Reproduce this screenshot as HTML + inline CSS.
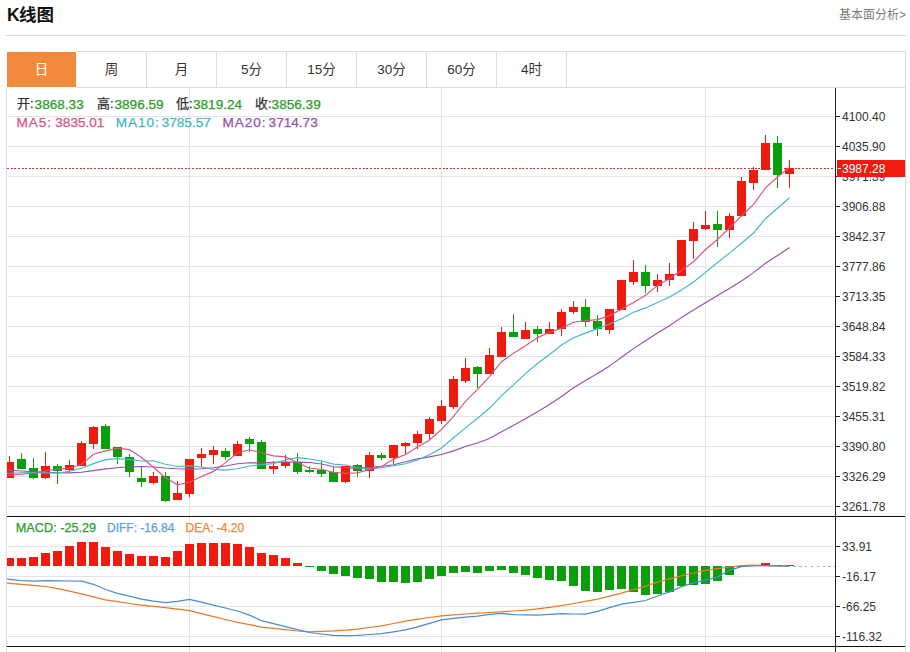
<!DOCTYPE html>
<html><head><meta charset="utf-8"><style>
*{margin:0;padding:0;box-sizing:border-box}
html,body{width:910px;height:652px;overflow:hidden;background:#fff}
body{position:relative;font-family:"Liberation Sans","Noto Sans CJK SC",sans-serif;color:#333}
.title{position:absolute;left:7px;top:3px;font-size:17.5px;font-weight:bold;color:#111;line-height:24px;letter-spacing:0}
.more{position:absolute;right:4px;top:7px;font-size:12px;color:#7c7c7c;line-height:16px}
.hr{position:absolute;left:6px;top:35px;width:900px;height:1px;background:#d0d0d0}
.box{position:absolute;left:6px;top:88px;width:900px;height:564px;border-left:1px solid #dcdcdc;border-right:1px solid #dcdcdc}
.tabs{position:absolute;left:76px;top:51px;width:830px;height:37px;border:1px solid #dcdcdc;border-left:none}
.tab{position:absolute;top:52px;height:35px;width:70px;border-right:1px solid #dcdcdc;text-align:center;font-size:13.5px;line-height:36px;color:#333}
.tab.on{background:#f28a3c;color:#fff;border-right:none;width:69px}
.lg{position:absolute;font-size:13px;white-space:pre;line-height:16px;-webkit-text-stroke:0.25px currentColor}
.r1{top:96px;font-size:13px}
.r1.g{font-size:13.6px;top:96.5px}
.r2{top:114.5px;font-size:13.6px}
.r2.l{letter-spacing:0.9px}
.r3{top:520px;font-size:12px}
.g{color:#2a9d2a}
svg{position:absolute;left:0;top:0}
svg text{font-family:"Liberation Sans",sans-serif;font-size:12px;fill:#333}
</style></head><body>
<div class="title"><span style="letter-spacing:-0.6px">K</span>线图</div>
<div class="more">基本面分析&gt;</div>
<div class="hr"></div>
<div class="box"></div>
<div class="tabs"></div>
<div class="tab on" style="left:7px">日</div>
<div class="tab" style="left:77px">周</div>
<div class="tab" style="left:147px">月</div>
<div class="tab" style="left:217px">5分</div>
<div class="tab" style="left:287px">15分</div>
<div class="tab" style="left:357px">30分</div>
<div class="tab" style="left:427px">60分</div>
<div class="tab" style="left:497px">4时</div>
<svg width="910" height="652" viewBox="0 0 910 652" shape-rendering="crispEdges">

<g><rect x="8" y="116" width="827" height="1" fill="#e3e4e8"/><rect x="8" y="146" width="827" height="1" fill="#e3e4e8"/><rect x="8" y="176" width="827" height="1" fill="#e3e4e8"/><rect x="8" y="206" width="827" height="1" fill="#e3e4e8"/><rect x="8" y="236" width="827" height="1" fill="#e3e4e8"/><rect x="8" y="266" width="827" height="1" fill="#e3e4e8"/><rect x="8" y="296" width="827" height="1" fill="#e3e4e8"/><rect x="8" y="326" width="827" height="1" fill="#e3e4e8"/><rect x="8" y="356" width="827" height="1" fill="#e3e4e8"/><rect x="8" y="386" width="827" height="1" fill="#e3e4e8"/><rect x="8" y="416" width="827" height="1" fill="#e3e4e8"/><rect x="8" y="446" width="827" height="1" fill="#e3e4e8"/><rect x="8" y="476" width="827" height="1" fill="#e3e4e8"/><rect x="8" y="506" width="827" height="1" fill="#e3e4e8"/><rect x="8" y="546" width="827" height="1" fill="#e3e4e8"/><rect x="8" y="576" width="827" height="1" fill="#e3e4e8"/><rect x="8" y="606" width="827" height="1" fill="#e3e4e8"/><rect x="8" y="636" width="827" height="1" fill="#e3e4e8"/><rect x="189" y="88" width="1" height="564" fill="#e3e4e8"/><rect x="441" y="88" width="1" height="564" fill="#e3e4e8"/><rect x="705" y="88" width="1" height="564" fill="#e3e4e8"/><line x1="7" y1="168.5" x2="835" y2="168.5" stroke="#cc3040" stroke-width="1" stroke-dasharray="2,1.63"/><rect x="7" y="462" width="7" height="16" fill="#ee1b0e"/><rect x="9" y="456" width="1" height="6" fill="#ee1b0e"/><rect x="17" y="459" width="9" height="10" fill="#0a9e0a"/><rect x="21" y="453" width="1" height="6" fill="#0a9e0a"/><rect x="29" y="468" width="9" height="10" fill="#0a9e0a"/><rect x="33" y="458" width="1" height="10" fill="#0a9e0a"/><rect x="33" y="478" width="1" height="1" fill="#0a9e0a"/><rect x="41" y="466" width="9" height="12" fill="#ee1b0e"/><rect x="45" y="452" width="1" height="14" fill="#ee1b0e"/><rect x="45" y="478" width="1" height="1" fill="#ee1b0e"/><rect x="53" y="466" width="9" height="5" fill="#0a9e0a"/><rect x="57" y="464" width="1" height="2" fill="#0a9e0a"/><rect x="57" y="471" width="1" height="13" fill="#0a9e0a"/><rect x="65" y="465" width="9" height="5" fill="#ee1b0e"/><rect x="69" y="460" width="1" height="5" fill="#ee1b0e"/><rect x="69" y="470" width="1" height="2" fill="#ee1b0e"/><rect x="77" y="443" width="9" height="23" fill="#ee1b0e"/><rect x="81" y="441" width="1" height="2" fill="#ee1b0e"/><rect x="89" y="427" width="9" height="17" fill="#ee1b0e"/><rect x="93" y="426" width="1" height="1" fill="#ee1b0e"/><rect x="93" y="444" width="1" height="5" fill="#ee1b0e"/><rect x="101" y="426" width="9" height="23" fill="#0a9e0a"/><rect x="105" y="424" width="1" height="2" fill="#0a9e0a"/><rect x="113" y="447" width="9" height="10" fill="#0a9e0a"/><rect x="117" y="457" width="1" height="7" fill="#0a9e0a"/><rect x="125" y="457" width="9" height="15" fill="#0a9e0a"/><rect x="129" y="454" width="1" height="3" fill="#0a9e0a"/><rect x="129" y="472" width="1" height="5" fill="#0a9e0a"/><rect x="137" y="478" width="9" height="4" fill="#0a9e0a"/><rect x="141" y="466" width="1" height="12" fill="#0a9e0a"/><rect x="141" y="482" width="1" height="5" fill="#0a9e0a"/><rect x="149" y="476" width="9" height="7" fill="#ee1b0e"/><rect x="153" y="472" width="1" height="4" fill="#ee1b0e"/><rect x="153" y="483" width="1" height="1" fill="#ee1b0e"/><rect x="161" y="476" width="9" height="25" fill="#0a9e0a"/><rect x="165" y="472" width="1" height="4" fill="#0a9e0a"/><rect x="165" y="501" width="1" height="1" fill="#0a9e0a"/><rect x="173" y="493" width="9" height="7" fill="#ee1b0e"/><rect x="177" y="481" width="1" height="12" fill="#ee1b0e"/><rect x="185" y="459" width="9" height="35" fill="#ee1b0e"/><rect x="189" y="494" width="1" height="3" fill="#ee1b0e"/><rect x="197" y="454" width="9" height="4" fill="#ee1b0e"/><rect x="201" y="448" width="1" height="6" fill="#ee1b0e"/><rect x="201" y="458" width="1" height="9" fill="#ee1b0e"/><rect x="209" y="450" width="9" height="5" fill="#ee1b0e"/><rect x="213" y="446" width="1" height="4" fill="#ee1b0e"/><rect x="213" y="455" width="1" height="9" fill="#ee1b0e"/><rect x="221" y="451" width="9" height="6" fill="#0a9e0a"/><rect x="225" y="448" width="1" height="3" fill="#0a9e0a"/><rect x="225" y="457" width="1" height="3" fill="#0a9e0a"/><rect x="233" y="444" width="9" height="12" fill="#ee1b0e"/><rect x="237" y="441" width="1" height="3" fill="#ee1b0e"/><rect x="245" y="439" width="9" height="5" fill="#0a9e0a"/><rect x="249" y="437" width="1" height="2" fill="#0a9e0a"/><rect x="249" y="444" width="1" height="8" fill="#0a9e0a"/><rect x="257" y="442" width="9" height="27" fill="#0a9e0a"/><rect x="261" y="440" width="1" height="2" fill="#0a9e0a"/><rect x="269" y="466" width="9" height="3" fill="#ee1b0e"/><rect x="273" y="461" width="1" height="5" fill="#ee1b0e"/><rect x="273" y="469" width="1" height="5" fill="#ee1b0e"/><rect x="281" y="462" width="9" height="4" fill="#ee1b0e"/><rect x="285" y="455" width="1" height="7" fill="#ee1b0e"/><rect x="285" y="466" width="1" height="2" fill="#ee1b0e"/><rect x="293" y="462" width="9" height="10" fill="#0a9e0a"/><rect x="297" y="453" width="1" height="9" fill="#0a9e0a"/><rect x="297" y="472" width="1" height="2" fill="#0a9e0a"/><rect x="305" y="470" width="9" height="2" fill="#0a9e0a"/><rect x="309" y="466" width="1" height="4" fill="#0a9e0a"/><rect x="309" y="472" width="1" height="1" fill="#0a9e0a"/><rect x="317" y="470" width="9" height="4" fill="#0a9e0a"/><rect x="321" y="461" width="1" height="9" fill="#0a9e0a"/><rect x="321" y="474" width="1" height="3" fill="#0a9e0a"/><rect x="329" y="472" width="9" height="10" fill="#0a9e0a"/><rect x="333" y="467" width="1" height="5" fill="#0a9e0a"/><rect x="341" y="466" width="9" height="16" fill="#ee1b0e"/><rect x="345" y="482" width="1" height="1" fill="#ee1b0e"/><rect x="353" y="465" width="9" height="6" fill="#0a9e0a"/><rect x="357" y="464" width="1" height="1" fill="#0a9e0a"/><rect x="357" y="471" width="1" height="6" fill="#0a9e0a"/><rect x="365" y="455" width="9" height="16" fill="#ee1b0e"/><rect x="369" y="452" width="1" height="3" fill="#ee1b0e"/><rect x="369" y="471" width="1" height="7" fill="#ee1b0e"/><rect x="377" y="455" width="9" height="3" fill="#0a9e0a"/><rect x="381" y="453" width="1" height="2" fill="#0a9e0a"/><rect x="381" y="458" width="1" height="2" fill="#0a9e0a"/><rect x="389" y="445" width="9" height="13" fill="#ee1b0e"/><rect x="393" y="458" width="1" height="6" fill="#ee1b0e"/><rect x="401" y="443" width="9" height="3" fill="#ee1b0e"/><rect x="405" y="442" width="1" height="1" fill="#ee1b0e"/><rect x="405" y="446" width="1" height="8" fill="#ee1b0e"/><rect x="413" y="434" width="9" height="9" fill="#ee1b0e"/><rect x="417" y="431" width="1" height="3" fill="#ee1b0e"/><rect x="417" y="443" width="1" height="6" fill="#ee1b0e"/><rect x="425" y="419" width="9" height="15" fill="#ee1b0e"/><rect x="429" y="417" width="1" height="2" fill="#ee1b0e"/><rect x="429" y="434" width="1" height="5" fill="#ee1b0e"/><rect x="437" y="406" width="9" height="15" fill="#ee1b0e"/><rect x="441" y="400" width="1" height="6" fill="#ee1b0e"/><rect x="441" y="421" width="1" height="3" fill="#ee1b0e"/><rect x="449" y="379" width="9" height="28" fill="#ee1b0e"/><rect x="453" y="376" width="1" height="3" fill="#ee1b0e"/><rect x="453" y="407" width="1" height="2" fill="#ee1b0e"/><rect x="461" y="368" width="9" height="13" fill="#ee1b0e"/><rect x="465" y="358" width="1" height="10" fill="#ee1b0e"/><rect x="465" y="381" width="1" height="2" fill="#ee1b0e"/><rect x="473" y="367" width="9" height="7" fill="#0a9e0a"/><rect x="477" y="366" width="1" height="1" fill="#0a9e0a"/><rect x="477" y="374" width="1" height="14" fill="#0a9e0a"/><rect x="485" y="355" width="9" height="19" fill="#ee1b0e"/><rect x="489" y="348" width="1" height="7" fill="#ee1b0e"/><rect x="497" y="332" width="9" height="25" fill="#ee1b0e"/><rect x="501" y="327" width="1" height="5" fill="#ee1b0e"/><rect x="509" y="332" width="9" height="5" fill="#0a9e0a"/><rect x="513" y="314" width="1" height="18" fill="#0a9e0a"/><rect x="521" y="330" width="9" height="9" fill="#ee1b0e"/><rect x="525" y="322" width="1" height="8" fill="#ee1b0e"/><rect x="533" y="329" width="9" height="5" fill="#0a9e0a"/><rect x="537" y="326" width="1" height="3" fill="#0a9e0a"/><rect x="537" y="334" width="1" height="8" fill="#0a9e0a"/><rect x="545" y="329" width="9" height="5" fill="#ee1b0e"/><rect x="549" y="322" width="1" height="7" fill="#ee1b0e"/><rect x="557" y="312" width="9" height="17" fill="#ee1b0e"/><rect x="561" y="309" width="1" height="3" fill="#ee1b0e"/><rect x="561" y="329" width="1" height="7" fill="#ee1b0e"/><rect x="569" y="307" width="9" height="5" fill="#ee1b0e"/><rect x="573" y="301" width="1" height="6" fill="#ee1b0e"/><rect x="573" y="312" width="1" height="2" fill="#ee1b0e"/><rect x="581" y="307" width="9" height="15" fill="#0a9e0a"/><rect x="585" y="299" width="1" height="8" fill="#0a9e0a"/><rect x="585" y="322" width="1" height="5" fill="#0a9e0a"/><rect x="593" y="321" width="9" height="8" fill="#0a9e0a"/><rect x="597" y="315" width="1" height="6" fill="#0a9e0a"/><rect x="597" y="329" width="1" height="7" fill="#0a9e0a"/><rect x="605" y="309" width="9" height="21" fill="#ee1b0e"/><rect x="609" y="330" width="1" height="4" fill="#ee1b0e"/><rect x="617" y="280" width="9" height="30" fill="#ee1b0e"/><rect x="629" y="272" width="9" height="10" fill="#ee1b0e"/><rect x="633" y="260" width="1" height="12" fill="#ee1b0e"/><rect x="633" y="282" width="1" height="3" fill="#ee1b0e"/><rect x="641" y="272" width="9" height="14" fill="#0a9e0a"/><rect x="645" y="265" width="1" height="7" fill="#0a9e0a"/><rect x="645" y="286" width="1" height="7" fill="#0a9e0a"/><rect x="653" y="280" width="9" height="6" fill="#ee1b0e"/><rect x="657" y="274" width="1" height="6" fill="#ee1b0e"/><rect x="657" y="286" width="1" height="6" fill="#ee1b0e"/><rect x="665" y="274" width="9" height="6" fill="#ee1b0e"/><rect x="669" y="263" width="1" height="11" fill="#ee1b0e"/><rect x="669" y="280" width="1" height="6" fill="#ee1b0e"/><rect x="677" y="240" width="9" height="36" fill="#ee1b0e"/><rect x="689" y="229" width="9" height="12" fill="#ee1b0e"/><rect x="693" y="222" width="1" height="7" fill="#ee1b0e"/><rect x="693" y="241" width="1" height="18" fill="#ee1b0e"/><rect x="701" y="225" width="9" height="4" fill="#ee1b0e"/><rect x="705" y="211" width="1" height="14" fill="#ee1b0e"/><rect x="705" y="229" width="1" height="1" fill="#ee1b0e"/><rect x="713" y="224" width="9" height="6" fill="#0a9e0a"/><rect x="717" y="211" width="1" height="13" fill="#0a9e0a"/><rect x="717" y="230" width="1" height="17" fill="#0a9e0a"/><rect x="725" y="216" width="9" height="14" fill="#ee1b0e"/><rect x="729" y="213" width="1" height="3" fill="#ee1b0e"/><rect x="729" y="230" width="1" height="8" fill="#ee1b0e"/><rect x="737" y="181" width="9" height="35" fill="#ee1b0e"/><rect x="741" y="177" width="1" height="4" fill="#ee1b0e"/><rect x="749" y="170" width="9" height="13" fill="#ee1b0e"/><rect x="753" y="167" width="1" height="3" fill="#ee1b0e"/><rect x="753" y="183" width="1" height="7" fill="#ee1b0e"/><rect x="761" y="143" width="9" height="27" fill="#ee1b0e"/><rect x="765" y="135" width="1" height="8" fill="#ee1b0e"/><rect x="773" y="143" width="9" height="32" fill="#0a9e0a"/><rect x="777" y="136" width="1" height="7" fill="#0a9e0a"/><rect x="777" y="175" width="1" height="13" fill="#0a9e0a"/><rect x="785" y="168" width="9" height="6" fill="#ee1b0e"/><rect x="789" y="160" width="1" height="8" fill="#ee1b0e"/><rect x="789" y="174" width="1" height="14" fill="#ee1b0e"/><rect x="7" y="558" width="7" height="8" fill="#ee1b0e"/><rect x="17" y="558" width="9" height="8" fill="#ee1b0e"/><rect x="29" y="557" width="9" height="9" fill="#ee1b0e"/><rect x="41" y="553" width="9" height="13" fill="#ee1b0e"/><rect x="53" y="551" width="9" height="15" fill="#ee1b0e"/><rect x="65" y="546" width="9" height="20" fill="#ee1b0e"/><rect x="77" y="542" width="9" height="24" fill="#ee1b0e"/><rect x="89" y="542" width="9" height="24" fill="#ee1b0e"/><rect x="101" y="547" width="9" height="19" fill="#ee1b0e"/><rect x="113" y="551" width="9" height="15" fill="#ee1b0e"/><rect x="125" y="554" width="9" height="12" fill="#ee1b0e"/><rect x="137" y="556" width="9" height="10" fill="#ee1b0e"/><rect x="149" y="556" width="9" height="10" fill="#ee1b0e"/><rect x="161" y="557" width="9" height="9" fill="#ee1b0e"/><rect x="173" y="551" width="9" height="15" fill="#ee1b0e"/><rect x="185" y="544" width="9" height="22" fill="#ee1b0e"/><rect x="197" y="543" width="9" height="23" fill="#ee1b0e"/><rect x="209" y="543" width="9" height="23" fill="#ee1b0e"/><rect x="221" y="543" width="9" height="23" fill="#ee1b0e"/><rect x="233" y="544" width="9" height="22" fill="#ee1b0e"/><rect x="245" y="547" width="9" height="19" fill="#ee1b0e"/><rect x="257" y="553" width="9" height="13" fill="#ee1b0e"/><rect x="269" y="555" width="9" height="11" fill="#ee1b0e"/><rect x="281" y="558" width="9" height="8" fill="#ee1b0e"/><rect x="293" y="563" width="9" height="3" fill="#ee1b0e"/><rect x="305" y="566" width="9" height="1" fill="#0a9e0a"/><rect x="317" y="566" width="9" height="5" fill="#0a9e0a"/><rect x="329" y="566" width="9" height="8" fill="#0a9e0a"/><rect x="341" y="566" width="9" height="10" fill="#0a9e0a"/><rect x="353" y="566" width="9" height="12" fill="#0a9e0a"/><rect x="365" y="566" width="9" height="13" fill="#0a9e0a"/><rect x="377" y="566" width="9" height="16" fill="#0a9e0a"/><rect x="389" y="566" width="9" height="16" fill="#0a9e0a"/><rect x="401" y="566" width="9" height="17" fill="#0a9e0a"/><rect x="413" y="566" width="9" height="16" fill="#0a9e0a"/><rect x="425" y="566" width="9" height="13" fill="#0a9e0a"/><rect x="437" y="566" width="9" height="10" fill="#0a9e0a"/><rect x="449" y="566" width="9" height="7" fill="#0a9e0a"/><rect x="461" y="566" width="9" height="6" fill="#0a9e0a"/><rect x="473" y="566" width="9" height="7" fill="#0a9e0a"/><rect x="485" y="566" width="9" height="5" fill="#0a9e0a"/><rect x="497" y="566" width="9" height="4" fill="#0a9e0a"/><rect x="509" y="566" width="9" height="7" fill="#0a9e0a"/><rect x="521" y="566" width="9" height="9" fill="#0a9e0a"/><rect x="533" y="566" width="9" height="12" fill="#0a9e0a"/><rect x="545" y="566" width="9" height="14" fill="#0a9e0a"/><rect x="557" y="566" width="9" height="15" fill="#0a9e0a"/><rect x="569" y="566" width="9" height="20" fill="#0a9e0a"/><rect x="581" y="566" width="9" height="25" fill="#0a9e0a"/><rect x="593" y="566" width="9" height="26" fill="#0a9e0a"/><rect x="605" y="566" width="9" height="24" fill="#0a9e0a"/><rect x="617" y="566" width="9" height="23" fill="#0a9e0a"/><rect x="629" y="566" width="9" height="26" fill="#0a9e0a"/><rect x="641" y="566" width="9" height="29" fill="#0a9e0a"/><rect x="653" y="566" width="9" height="28" fill="#0a9e0a"/><rect x="665" y="566" width="9" height="26" fill="#0a9e0a"/><rect x="677" y="566" width="9" height="20" fill="#0a9e0a"/><rect x="689" y="566" width="9" height="19" fill="#0a9e0a"/><rect x="701" y="566" width="9" height="18" fill="#0a9e0a"/><rect x="713" y="566" width="9" height="15" fill="#0a9e0a"/><rect x="725" y="566" width="9" height="9" fill="#0a9e0a"/><rect x="737" y="566" width="9" height="1" fill="#0a9e0a"/><rect x="749" y="565" width="9" height="1" fill="#ee1b0e"/><rect x="761" y="563" width="9" height="3" fill="#ee1b0e"/><rect x="773" y="565" width="9" height="1" fill="#ee1b0e"/><rect x="785" y="565" width="9" height="1" fill="#ee1b0e"/><line x1="793" y1="566.5" x2="835" y2="566.5" stroke="#9db4cc" stroke-width="1" stroke-dasharray="2.6,3.3"/><rect x="7" y="516" width="829" height="1" fill="#111"/><rect x="7" y="646" width="829" height="1" fill="#111"/><rect x="835" y="88" width="1" height="564" fill="#222"/><rect x="835" y="646" width="70" height="1" fill="#111"/><rect x="835" y="516" width="70" height="1" fill="#111"/><rect x="836" y="116" width="4" height="1" fill="#222"/><rect x="836" y="146" width="4" height="1" fill="#222"/><rect x="836" y="176" width="4" height="1" fill="#222"/><rect x="836" y="206" width="4" height="1" fill="#222"/><rect x="836" y="236" width="4" height="1" fill="#222"/><rect x="836" y="266" width="4" height="1" fill="#222"/><rect x="836" y="296" width="4" height="1" fill="#222"/><rect x="836" y="326" width="4" height="1" fill="#222"/><rect x="836" y="356" width="4" height="1" fill="#222"/><rect x="836" y="386" width="4" height="1" fill="#222"/><rect x="836" y="416" width="4" height="1" fill="#222"/><rect x="836" y="446" width="4" height="1" fill="#222"/><rect x="836" y="476" width="4" height="1" fill="#222"/><rect x="836" y="506" width="4" height="1" fill="#222"/><rect x="836" y="546" width="4" height="1" fill="#222"/><rect x="836" y="576" width="4" height="1" fill="#222"/><rect x="836" y="606" width="4" height="1" fill="#222"/><rect x="836" y="636" width="4" height="1" fill="#222"/></g>
<g shape-rendering="auto"><polyline points="7,469.9 9.5,470.1 21.5,471.0 33.5,471.7 45.5,472.3 57.5,472.7 69.5,472.9 81.5,472.2 93.5,470.6 105.5,468.9 117.5,467.7 129.5,466.8 141.5,466.5 153.5,467.0 165.5,468.0 177.5,468.7 189.5,469.1 201.5,468.7 213.5,467.8 225.5,466.0 237.5,463.7 249.5,462.8 261.5,462.8 273.5,462.2 285.5,462.0 297.5,462.1 309.5,462.5 321.5,464.0 333.5,466.7 345.5,467.6 357.5,468.3 369.5,467.4 381.5,466.2 393.5,464.7 405.5,461.8 417.5,458.9 429.5,456.9 441.5,454.5 453.5,450.9 465.5,446.5 477.5,443.0 489.5,438.6 501.5,431.7 513.5,425.3 525.5,418.7 537.5,411.8 549.5,404.6 561.5,396.5 573.5,387.8 585.5,380.5 597.5,373.4 609.5,366.1 621.5,357.2 633.5,348.6 645.5,340.7 657.5,333.0 669.5,325.7 681.5,317.4 693.5,309.9 705.5,302.8 717.5,295.5 729.5,288.6 741.5,281.0 753.5,272.6 765.5,263.3 777.5,255.4 789.5,247.4" fill="none" stroke="#9650ae" stroke-width="1.15"/><polyline points="7,473.4 9.5,473.3 21.5,472.9 33.5,472.6 45.5,472.9 57.5,473.2 69.5,471.3 81.5,468.3 93.5,463.6 105.5,459.6 117.5,458.6 129.5,459.6 141.5,461.0 153.5,460.8 165.5,464.3 177.5,466.5 189.5,465.9 201.5,467.0 213.5,469.4 225.5,470.1 237.5,468.8 249.5,466.0 261.5,464.6 273.5,463.6 285.5,459.8 297.5,457.7 309.5,459.0 321.5,461.0 333.5,464.1 345.5,465.0 357.5,467.8 369.5,468.9 381.5,467.8 393.5,465.7 405.5,463.8 417.5,460.0 429.5,454.7 441.5,448.0 453.5,437.8 465.5,427.9 477.5,418.3 489.5,408.3 501.5,395.6 513.5,384.9 525.5,373.6 537.5,363.5 549.5,354.5 561.5,345.0 573.5,337.8 585.5,333.1 597.5,328.6 609.5,324.0 621.5,318.8 633.5,312.3 645.5,307.9 657.5,302.5 669.5,297.0 681.5,289.9 693.5,282.0 705.5,272.4 717.5,262.5 729.5,253.1 741.5,243.2 753.5,233.0 765.5,218.7 777.5,208.2 789.5,197.7" fill="none" stroke="#40b9c6" stroke-width="1.15"/><polyline points="7,475.5 9.5,475.3 21.5,474.3 33.5,473.0 45.5,471.0 57.5,469.0 69.5,468.3 81.5,464.5 93.5,454.3 105.5,450.9 117.5,448.2 129.5,449.6 141.5,457.5 153.5,467.3 165.5,477.7 177.5,484.8 189.5,482.2 201.5,476.5 213.5,471.4 225.5,462.6 237.5,452.8 249.5,449.8 261.5,452.8 273.5,455.9 285.5,456.9 297.5,462.6 309.5,468.3 321.5,469.2 333.5,472.4 345.5,473.2 357.5,472.9 369.5,469.4 381.5,466.4 393.5,459.1 405.5,454.5 417.5,447.1 429.5,440.0 441.5,429.5 453.5,416.4 465.5,401.4 477.5,389.4 489.5,376.6 501.5,361.7 513.5,353.3 525.5,345.7 537.5,337.6 549.5,332.3 561.5,328.3 573.5,322.2 585.5,320.6 597.5,319.6 609.5,315.6 621.5,309.3 633.5,302.4 645.5,295.3 657.5,285.4 669.5,278.4 681.5,270.4 693.5,261.7 705.5,249.5 717.5,239.5 729.5,227.9 741.5,216.0 753.5,204.3 765.5,187.9 777.5,177.0 789.5,167.5" fill="none" stroke="#da5482" stroke-width="1.15"/><polyline points="7,583.1 9.5,583.3 21.5,584.4 33.5,585.4 45.5,586.5 57.5,588.6 69.5,591.2 81.5,593.9 93.5,596.9 105.5,599.8 117.5,601.7 129.5,603.5 141.5,605.1 153.5,606.4 165.5,607.6 177.5,609.1 189.5,610.6 201.5,613.6 213.5,616.6 225.5,619.5 237.5,622.3 249.5,624.7 261.5,627.1 273.5,628.4 285.5,629.7 297.5,631.0 309.5,631.8 321.5,631.3 333.5,630.9 345.5,630.2 357.5,629.2 369.5,627.5 381.5,625.8 393.5,623.5 405.5,621.2 417.5,619.2 429.5,617.5 441.5,615.9 453.5,614.9 465.5,614.0 477.5,613.2 489.5,612.5 501.5,611.8 513.5,611.0 525.5,610.1 537.5,608.8 549.5,607.3 561.5,605.7 573.5,603.5 585.5,601.3 597.5,599.1 609.5,596.2 621.5,593.2 633.5,589.7 645.5,586.2 657.5,582.2 669.5,578.8 681.5,575.9 693.5,573.0 705.5,570.4 717.5,568.7 729.5,567.0 741.5,565.6 753.5,565.2 765.5,565.6 777.5,566.0 789.5,566.2" fill="none" stroke="#e87a2a" stroke-width="1.25"/><polyline points="7,579.0 9.5,579.3 21.5,580.6 33.5,581.2 45.5,580.6 57.5,580.8 69.5,581.0 81.5,581.1 93.5,584.3 105.5,589.5 117.5,593.3 129.5,596.2 141.5,599.1 153.5,601.2 165.5,602.5 177.5,601.4 189.5,599.5 201.5,602.2 213.5,605.1 225.5,608.0 237.5,611.0 249.5,615.2 261.5,620.7 273.5,623.7 285.5,626.6 297.5,629.7 309.5,632.5 321.5,634.0 333.5,635.3 345.5,635.5 357.5,635.4 369.5,634.5 381.5,633.6 393.5,631.8 405.5,629.8 417.5,626.9 429.5,623.4 441.5,619.9 453.5,618.3 465.5,617.1 477.5,616.1 489.5,614.3 501.5,613.4 513.5,614.6 525.5,614.8 537.5,615.0 549.5,614.3 561.5,613.6 573.5,614.0 585.5,614.2 597.5,611.3 609.5,607.7 621.5,604.1 633.5,602.4 645.5,600.5 657.5,596.0 669.5,591.9 681.5,586.6 693.5,582.9 705.5,580.1 717.5,576.8 729.5,570.3 741.5,566.7 753.5,566.0 765.5,565.6 777.5,566.0 789.5,566.2" fill="none" stroke="#4c8ccc" stroke-width="1.25"/></g>
<g><text x="842" y="120.5">4100.40</text><text x="842" y="150.5">4035.90</text><text x="842" y="180.5">3971.39</text><text x="842" y="210.5">3906.88</text><text x="842" y="240.5">3842.37</text><text x="842" y="270.5">3777.86</text><text x="842" y="300.5">3713.35</text><text x="842" y="330.5">3648.84</text><text x="842" y="360.5">3584.33</text><text x="842" y="390.5">3519.82</text><text x="842" y="420.5">3455.31</text><text x="842" y="450.5">3390.80</text><text x="842" y="480.5">3326.29</text><text x="842" y="510.5">3261.78</text><text x="842" y="550.5">33.91</text><text x="842" y="580.5">-16.17</text><text x="842" y="610.5">-66.25</text><text x="842" y="640.5">-116.32</text></g>
<rect x="837" y="160" width="68" height="17" fill="#ee1b0e"/><rect x="838" y="168" width="3" height="1" fill="#fff"/><text x="842" y="172.5" style="fill:#fff">3987.28</text>
</svg>
<div class="lg r1" style="left:17px">开:</div><div class="lg r1 g" style="left:34.6px">3868.33</div>
<div class="lg r1" style="left:97px">高:</div><div class="lg r1 g" style="left:114.5px">3896.59</div>
<div class="lg r1" style="left:176px">低:</div><div class="lg r1 g" style="left:193px">3819.24</div>
<div class="lg r1" style="left:255px">收:</div><div class="lg r1 g" style="left:271.6px">3856.39</div>
<div class="lg r2 l" style="left:16.5px;color:#da5482">MA5:</div><div class="lg r2" style="left:55.3px;color:#da5482">3835.01</div>
<div class="lg r2 l" style="left:115.8px;color:#40b9c6">MA10:</div><div class="lg r2" style="left:161.7px;color:#40b9c6">3785.57</div>
<div class="lg r2 l" style="left:222.6px;color:#9650ae">MA20:</div><div class="lg r2" style="left:268.6px;color:#9650ae">3714.73</div>
<div class="lg r3" style="left:15.8px;color:#2a9d2a;font-size:12.7px">MACD: -25.29</div>
<div class="lg r3" style="left:107px;color:#5aa0e0">DIFF: -16.84</div>
<div class="lg r3" style="left:185.5px;color:#f0862e">DEA: -4.20</div>
</body></html>
